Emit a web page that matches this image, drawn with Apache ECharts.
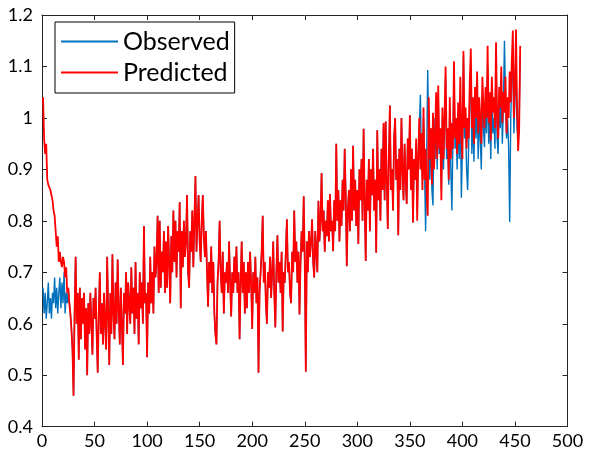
<!DOCTYPE html>
<html>
<head>
<meta charset="utf-8">
<script src="https://cdn.jsdelivr.net/npm/echarts@6/dist/echarts.min.js"></script>
<style>
  html, body { margin: 0; padding: 0; background: #fff; }
  #chart { width: 595px; height: 455px; }
</style>
</head>
<body>
<div id="chart"></div>
<script>
// x = 1..25, the two series differ at the start
const obsHead = [0.67, 0.62, 0.66, 0.61, 0.64, 0.68, 0.62, 0.65, 0.61, 0.66,
  0.64, 0.69, 0.63, 0.67, 0.62, 0.66, 0.69, 0.63, 0.68, 0.64,
  0.70, 0.62, 0.66, 0.64, 0.67];
const predHead = [1.04, 0.96, 0.93, 0.95, 0.88, 0.87, 0.87, 0.86, 0.85, 0.84,
  0.82, 0.81, 0.78, 0.75, 0.77, 0.72, 0.74, 0.72, 0.71, 0.73,
  0.72, 0.69, 0.71, 0.66, 0.67];

// x = 26..355, observed and predicted lie on top of each other
const common = [
  0.64, 0.62, 0.59, 0.55, 0.46, 0.62, 0.73, 0.60, 0.66, 0.53,
  0.67, 0.57, 0.65, 0.60, 0.66, 0.55, 0.63, 0.50, 0.64, 0.58,
  0.66, 0.60, 0.54, 0.65, 0.61, 0.67, 0.58, 0.505, 0.62, 0.70,
  0.58, 0.64, 0.56, 0.66, 0.60, 0.55, 0.73, 0.62, 0.52, 0.66,
  0.58, 0.735, 0.62, 0.57, 0.68, 0.60, 0.725, 0.63, 0.56, 0.67,
  0.60, 0.52, 0.66, 0.62, 0.70, 0.58, 0.68, 0.64, 0.60, 0.71,
  0.62, 0.67, 0.58, 0.72, 0.61, 0.66, 0.56, 0.70, 0.63, 0.68,
  0.60, 0.79, 0.64, 0.66, 0.535, 0.68, 0.62, 0.73, 0.64, 0.70,
  0.62, 0.75, 0.69, 0.72, 0.81, 0.66, 0.80, 0.67, 0.74, 0.70,
  0.78, 0.66, 0.76, 0.67, 0.79, 0.72, 0.64, 0.77, 0.70, 0.82,
  0.72, 0.80, 0.69, 0.78, 0.74, 0.836, 0.63, 0.78, 0.71, 0.80,
  0.73, 0.76, 0.85, 0.70, 0.67, 0.78, 0.74, 0.82, 0.71, 0.80,
  0.887, 0.74, 0.80, 0.85, 0.76, 0.72, 0.80, 0.85, 0.77, 0.73,
  0.78, 0.70, 0.633, 0.72, 0.68, 0.75, 0.66, 0.72, 0.62, 0.58,
  0.56, 0.68, 0.72, 0.80, 0.70, 0.66, 0.74, 0.62, 0.70, 0.68,
  0.72, 0.66, 0.76, 0.68, 0.614, 0.70, 0.66, 0.73, 0.68, 0.75,
  0.66, 0.70, 0.57, 0.68, 0.76, 0.66, 0.72, 0.62, 0.70, 0.63,
  0.72, 0.66, 0.74, 0.68, 0.59, 0.70, 0.66, 0.73, 0.64, 0.69,
  0.505, 0.66, 0.70, 0.74, 0.81, 0.68, 0.72, 0.64, 0.60, 0.70,
  0.67, 0.73, 0.65, 0.70, 0.76, 0.66, 0.593, 0.70, 0.772, 0.68,
  0.72, 0.66, 0.74, 0.585, 0.70, 0.68, 0.74, 0.803, 0.70, 0.72,
  0.66, 0.64, 0.74, 0.70, 0.82, 0.72, 0.76, 0.68, 0.74, 0.618,
  0.72, 0.78, 0.74, 0.848, 0.72, 0.507, 0.76, 0.70, 0.78, 0.73,
  0.76, 0.803, 0.72, 0.69, 0.78, 0.74, 0.70, 0.839, 0.76, 0.80,
  0.893, 0.78, 0.82, 0.74, 0.80, 0.77, 0.84, 0.76, 0.852, 0.78,
  0.80, 0.741, 0.84, 0.78, 0.95, 0.80, 0.86, 0.76, 0.84, 0.79,
  0.88, 0.82, 0.94, 0.85, 0.712, 0.82, 0.86, 0.78, 0.90, 0.80,
  0.946, 0.82, 0.88, 0.79, 0.86, 0.755, 0.90, 0.84, 0.92, 0.80,
  0.979, 0.84, 0.722, 0.88, 0.82, 0.92, 0.78, 0.90, 0.85, 0.94,
  0.82, 0.88, 0.738, 0.976, 0.84, 0.90, 0.80, 0.94, 0.86, 0.99,
  0.84, 0.993, 0.88, 0.784, 0.92, 1.024, 0.86, 0.90, 0.82, 0.96,
  1.00, 0.88, 0.92, 0.772, 0.94, 0.86, 1.00, 0.90, 0.84, 0.95,
  0.88, 0.833, 0.96, 0.90, 1.005, 0.86, 0.94, 0.797, 0.92, 0.88
];

// x = 356..455, the series split again
const obsTail = [
  0.95, 0.82, 0.93, 0.98, 1.045, 0.92, 0.88, 1.00, 0.90, 0.78,
  0.92, 1.093, 0.96, 0.88, 0.98, 0.86, 0.83, 1.00, 0.92, 1.02,
  0.90, 1.04, 0.93, 0.96, 0.86, 1.00, 0.90, 0.98, 1.08, 0.92,
  0.96, 0.87, 1.02, 0.90, 0.82, 0.96, 1.08, 0.94, 0.98, 0.90,
  1.00, 0.92, 1.04, 0.845, 0.94, 1.12, 0.96, 0.99, 0.90, 0.86,
  0.95, 1.04, 1.10, 0.93, 1.00, 0.915, 1.03, 0.96, 1.06, 0.92,
  1.00, 0.96, 0.90, 1.05, 0.98, 0.943, 1.03, 0.97, 1.10, 0.95,
  1.02, 0.92, 1.05, 0.97, 1.00, 0.94, 1.12, 0.96, 0.93, 1.03,
  0.98, 1.06, 0.95, 1.02, 1.15, 1.04, 0.96, 1.00, 0.94, 0.798,
  1.00, 1.08, 1.12, 0.97, 1.04, 1.10, 0.98, 0.96, 1.00, 1.12
];
const predTail = [
  0.96, 0.80, 0.92, 1.00, 0.90, 0.97, 0.86, 1.02, 0.88, 0.94,
  0.85, 0.81, 1.04, 0.92, 0.98, 0.87, 1.01, 0.90, 0.96, 1.05,
  0.92, 1.063, 0.94, 0.98, 0.84, 1.02, 0.92, 1.00, 1.10, 0.94,
  0.98, 0.88, 1.04, 0.92, 0.99, 0.94, 1.11, 0.96, 1.00, 0.93,
  1.03, 0.95, 1.08, 0.97, 0.92, 1.13, 0.98, 1.02, 0.94, 1.00,
  0.96, 1.07, 1.135, 0.98, 1.04, 0.95, 1.06, 1.00, 1.09, 0.97,
  1.04, 1.00, 0.95, 1.08, 1.02, 0.98, 1.06, 1.00, 1.14, 0.99,
  1.05, 0.956, 1.08, 1.01, 1.04, 0.98, 1.147, 1.00, 0.96, 1.06,
  1.02, 1.10, 0.99, 1.05, 1.01, 1.08, 0.97, 1.04, 1.00, 1.09,
  1.03, 1.11, 1.17, 1.00, 1.06, 1.172, 1.02, 0.936, 0.975, 1.14
];

const xTicks = [0, 50, 100, 150, 200, 250, 300, 350, 400, 450, 500];
const yTicks = ['0.4', '0.5', '0.6', '0.7', '0.8', '0.9', '1', '1.1', '1.2'];

const observed = obsHead.concat(common, obsTail).map((v, i) => [i + 1, v]);
const predicted = predHead.concat(common, predTail).map((v, i) => [i + 1, v]);

const axisCol = '#262626';
const font = 'Lato, "Open Sans", sans-serif';

function boxAxis(extra) {
  return Object.assign({
    type: 'value',
    axisLine: { show: true, onZero: false, lineStyle: { color: axisCol, width: 1 } },
    axisTick: { show: true, inside: true, length: 5, lineStyle: { color: axisCol } },
    splitLine: { show: false },
    axisLabel: { show: false }
  }, extra);
}

const chart = echarts.init(document.getElementById('chart'));
chart.setOption({
  animation: false,
  backgroundColor: '#fff',
  grid: { left: 42, right: 27.5, top: 15, bottom: 28.3, containLabel: false },
  xAxis: [
    boxAxis({
      min: 0, max: 500, interval: 50, position: 'bottom',
      axisLabel: {
        show: true, color: '#000', fontFamily: font, fontSize: 18, margin: 5,
        formatter: v => String(xTicks[Math.round(v / 50)])
      }
    }),
    boxAxis({ min: 0, max: 500, interval: 50, position: 'top' })
  ],
  yAxis: [
    boxAxis({
      min: 0.4, max: 1.2, interval: 0.1, position: 'left',
      axisLabel: {
        show: true, color: '#000', fontFamily: font, fontSize: 18, margin: 9,
        formatter: v => yTicks[Math.round((v - 0.4) * 10)]
      }
    }),
    boxAxis({ min: 0.4, max: 1.2, interval: 0.1, position: 'right' })
  ],
  legend: {
    orient: 'vertical',
    left: 55, top: 22,
    padding: [7, 5, 8, 6],
    icon: 'rect',
    itemWidth: 57, itemHeight: 2, itemGap: 6,
    borderColor: '#000', borderWidth: 1,
    backgroundColor: '#fff',
    textStyle: { fontFamily: font, fontSize: 25, color: '#000' },
    data: ['Observed', 'Predicted']
  },
  series: [
    {
      name: 'Observed', type: 'line', data: observed,
      symbol: 'none', color: '#0072BD',
      lineStyle: { width: 1.4, color: '#0072BD' }
    },
    {
      name: 'Predicted', type: 'line', data: predicted,
      symbol: 'none', color: '#FF0000',
      lineStyle: { width: 1.8, color: '#FF0000' }
    }
  ]
});
</script>
</body>
</html>
